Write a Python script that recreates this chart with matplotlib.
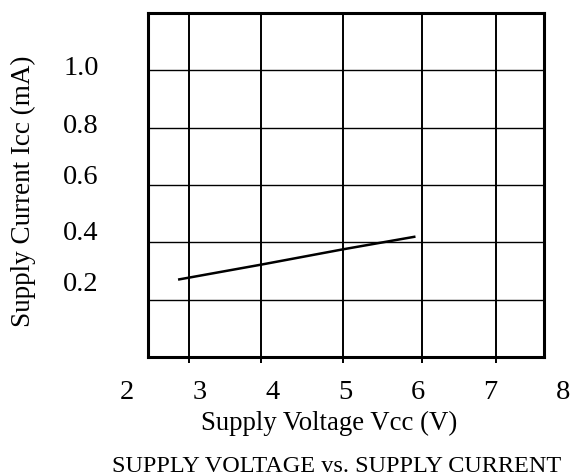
import matplotlib
matplotlib.use("Agg")
import matplotlib.pyplot as plt
import matplotlib.transforms as mtransforms

# supply current curve
vcc = [2.7, 3.84, 4.98, 5.97]
icc = [0.27, 0.322, 0.376, 0.42]

# grid positions as printed (irregular) and the x labels
x_grid = [2.856, 3.84, 4.976, 6.063, 7.074]
x_labels = [2, 3, 4, 5, 6, 7, 8]
y_grid = [0.2, 0.4, 0.6, 0.8, 1.0]
y_labels = ['0.2', '0.4', '0.6', '0.8', '1.0']
# the printed labels sit a little above their grid lines
y_label_pos = [0.255, 0.436, 0.631, 0.806, 1.01]

plt.rcParams['font.family'] = ['Liberation Serif', 'DejaVu Serif']

fig = plt.figure(figsize=(5.71, 4.77), dpi=100)
ax = fig.add_axes([0.2597, 0.2495, 0.6930, 0.7211])
ax.set_xlim(2.29, 7.74)
ax.set_ylim(0, 1.2)

ax.plot(vcc, icc, color='black', lw=1.8, solid_capstyle='butt', zorder=3)

for x in x_grid:
    ax.axvline(x, color='black', lw=1.4, zorder=2)
for y in y_grid:
    ax.axhline(y, color='black', lw=1.0, zorder=2)

ax.set_xticks(x_grid)
ax.set_xticklabels([])
ax.tick_params(axis='x', direction='out', length=4, width=1.4)
ax.set_yticks([])

for s in ax.spines.values():
    s.set_linewidth(2.2)

trans = mtransforms.blended_transform_factory(ax.transData, ax.transAxes)
for v in x_labels:
    ax.text(v, -0.099, str(v), transform=trans, ha='center', va='center',
            fontsize=20.5, clip_on=False)

ytrans = mtransforms.blended_transform_factory(ax.transAxes, ax.transData)
for pos, lab in zip(y_label_pos, y_labels):
    ax.text(-0.125, pos, lab, transform=ytrans, ha='right', va='center',
            fontsize=20.5, clip_on=False)

fig.text(329 / 571, 1 - 423 / 477, 'Supply Voltage Vcc (V)', ha='center',
         va='center', fontsize=19.3)
fig.text(23 / 571, 1 - 191 / 477, 'Supply Current Icc (mA)', ha='center',
         va='center', fontsize=19.5, rotation=90)
fig.text(336.5 / 571, 1 - 467 / 477, 'SUPPLY VOLTAGE vs. SUPPLY CURRENT',
         ha='center', va='center', fontsize=17.5)

fig.savefig('out.png', dpi=100)
